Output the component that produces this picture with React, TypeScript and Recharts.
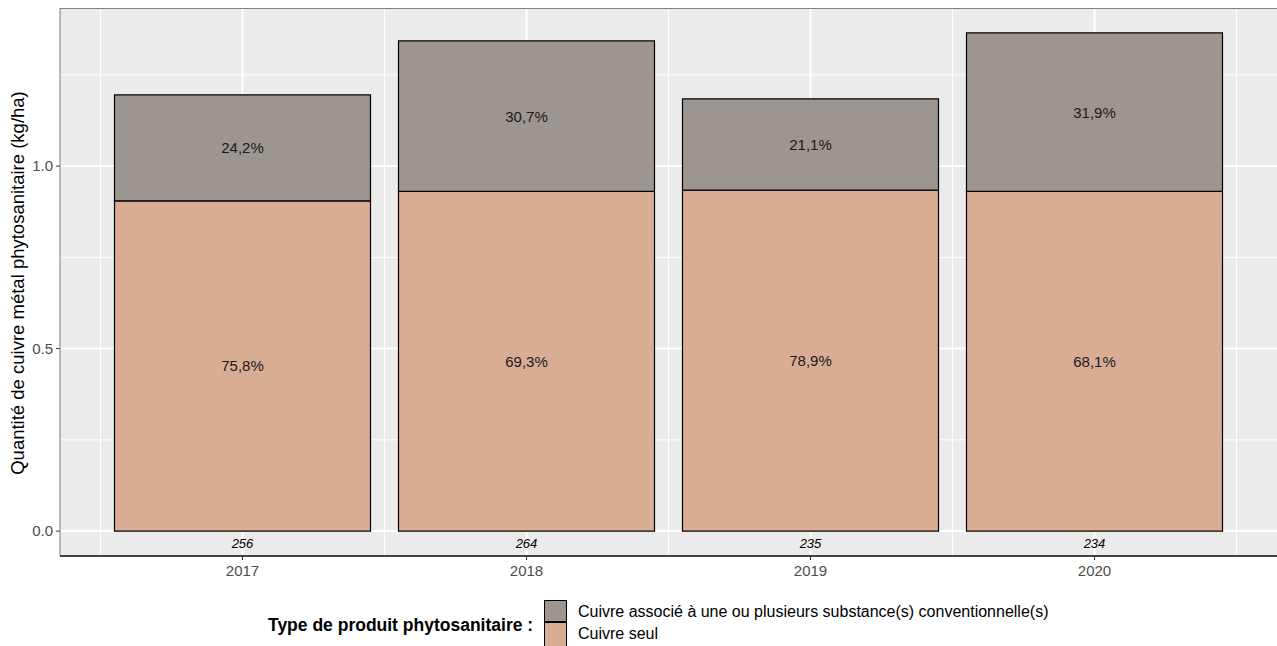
import React from 'react';
import { BarChart, Bar, XAxis, YAxis, CartesianGrid, LabelList } from 'recharts';

const years = ['2017', '2018', '2019', '2020'];
const cuivreSeul = [0.905, 0.931, 0.934, 0.931];
const cuivreAssocie = [0.29, 0.412, 0.25, 0.434];
const pctSeul = ['75,8%', '69,3%', '78,9%', '68,1%'];
const pctAssocie = ['24,2%', '30,7%', '21,1%', '31,9%'];
const nObs = ['256', '264', '235', '234'];
const yTicks = [0, 0.5, 1.0];
const yMinor = [0.25, 0.75, 1.25];
const xMinor = [2016.5, 2017.5, 2018.5, 2019.5, 2020.5];

const data = years.map((y, i) => ({
  year: y,
  seul: cuivreSeul[i],
  associe: cuivreAssocie[i],
  pSeul: pctSeul[i],
  pAssocie: pctAssocie[i],
  n: nObs[i],
}));

const FONT = '"Liberation Sans", Arial, sans-serif';
const COL_ASSOC = '#9d9690';
const COL_SEUL = '#d9ad94';

const W = 1277;
const H = 646;
const PAD = 40.5;

const PctLabel = (props: any) => {
  const { x, y, width, height, value } = props;
  return (
    <text x={x + width / 2} y={y + height / 2} textAnchor="middle" dominantBaseline="central"
      fontFamily={FONT} fontSize={15} fill="#1a1a1a">{value}</text>
  );
};

const NLabel = (props: any) => {
  const { x, y, width, height, value } = props;
  return (
    <text x={x + width / 2} y={y + height + 12} textAnchor="middle" dominantBaseline="central"
      fontFamily={FONT} fontSize={13} fontStyle="italic" fill="#000">{value}</text>
  );
};

export default function App() {
  return (
    <div style={{ position: 'absolute', left: 0, top: 0, width: W, height: H, background: '#fff', fontFamily: FONT }}>
      <BarChart width={W} height={H} data={data} margin={{ top: 8, right: 0, left: 0, bottom: 60 }} barSize={256}>
        <XAxis xAxisId="num" type="number" dataKey="x" domain={[2016.5 - PAD / 284, 2020.5 + PAD / 284]} hide allowDataOverflow />
        <YAxis yAxisId="main" domain={[-0.06825, 1.43325]} ticks={yTicks} allowDataOverflow width={60}
          tickFormatter={(v: number) => v.toFixed(1)}
          tick={{ fill: '#4d4d4d', fontSize: 15, fontFamily: FONT }}
          tickLine={{ stroke: '#333', strokeWidth: 1 }} tickSize={4} tickMargin={3}
          axisLine={{ stroke: '#7f7f7f', strokeWidth: 1 }} />
        <CartesianGrid xAxisId="num" yAxisId="main" fill="#ebebeb" stroke="#ffffff" strokeWidth={1}
          horizontalValues={yMinor} verticalValues={xMinor} />
        <XAxis xAxisId="cat" dataKey="year" padding={{ left: PAD, right: PAD }} height={30}
          tick={{ fill: '#4d4d4d', fontSize: 15, fontFamily: FONT }}
          tickLine={{ stroke: '#333', strokeWidth: 1 }} tickSize={4} tickMargin={5}
          axisLine={{ stroke: '#444', strokeWidth: 2 }} />
        <CartesianGrid xAxisId="cat" yAxisId="main" stroke="#ffffff" strokeWidth={2}
          horizontalValues={yTicks} verticalValues={years} />
        <Bar xAxisId="cat" yAxisId="main" dataKey="seul" stackId="a" fill={COL_SEUL} stroke="#000" strokeWidth={1.2} isAnimationActive={false}>
          <LabelList dataKey="pSeul" content={PctLabel} />
          <LabelList dataKey="n" content={NLabel} />
        </Bar>
        <Bar xAxisId="cat" yAxisId="main" dataKey="associe" stackId="a" fill={COL_ASSOC} stroke="#000" strokeWidth={1.2} isAnimationActive={false}>
          <LabelList dataKey="pAssocie" content={PctLabel} />
        </Bar>
      </BarChart>
      <div style={{ position: 'absolute', left: 60, top: 8, width: W - 60, height: 548, borderTop: '1px solid #7f7f7f', pointerEvents: 'none', boxSizing: 'border-box' }} />
      <div style={{ position: 'absolute', left: 18, top: 283, transform: 'translate(-50%, -50%) rotate(-90deg)', whiteSpace: 'nowrap', fontSize: 18.5, color: '#000' }}>
        Quantité de cuivre métal phytosanitaire (kg/ha)
      </div>
      <div style={{ position: 'absolute', left: 268, top: 614, fontSize: 17.5, fontWeight: 'bold', color: '#000', whiteSpace: 'nowrap', lineHeight: '22px' }}>
        Type de produit phytosanitaire :
      </div>
      <div style={{ position: 'absolute', left: 544, top: 600, width: 23, height: 23, background: COL_ASSOC, border: '1px solid #000', borderBottomWidth: 2, boxSizing: 'border-box' }} />
      <div style={{ position: 'absolute', left: 544, top: 623, width: 23, height: 23, background: COL_SEUL, border: '1px solid #000', borderTopWidth: 0, borderBottomWidth: 0, boxSizing: 'border-box' }} />
      <div style={{ position: 'absolute', left: 578, top: 603, fontSize: 16, color: '#000', whiteSpace: 'nowrap', lineHeight: '18px' }}>
        Cuivre associé à une ou plusieurs substance(s) conventionnelle(s)
      </div>
      <div style={{ position: 'absolute', left: 578, top: 625, fontSize: 16, color: '#000', whiteSpace: 'nowrap', lineHeight: '18px' }}>
        Cuivre seul
      </div>
    </div>
  );
}
